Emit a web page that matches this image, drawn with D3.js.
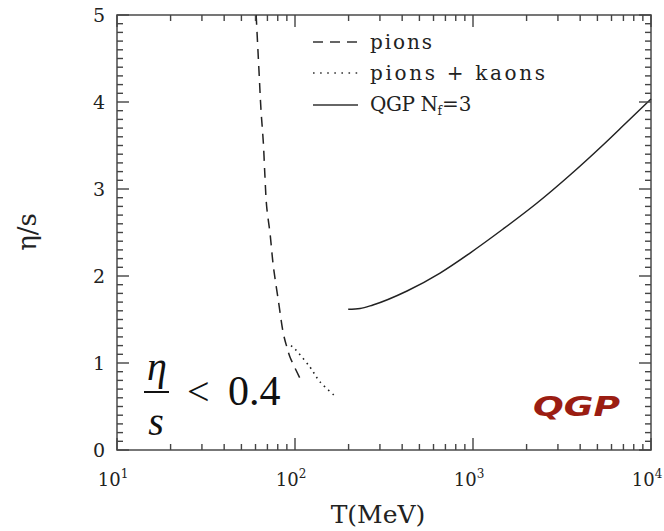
<!DOCTYPE html>
<html><head><meta charset="utf-8">
<script src="https://cdn.jsdelivr.net/npm/d3@7"></script>
<style>body{margin:0;background:#fff}svg{display:block}</style>
</head><body>
<svg id="c" width="664" height="531"></svg>
<script>
// ---- data ----
const pionsT   = [60.5, 63.0, 64.4, 66.4, 67.8, 69.3, 72.4, 75.6, 80.6, 86.0, 89.8, 93.7, 109];
const pionsEta = [5.0, 4.29, 3.91, 3.53, 3.14, 2.80, 2.49, 2.11, 1.72, 1.34, 1.19, 1.07, 0.785];
const kaonsT   = [95, 100, 121, 138, 170];
const kaonsEta = [1.20, 1.16, 0.957, 0.785, 0.61];
const qgpT     = [199, 232, 274, 426, 653, 962, 1476, 2290, 3510, 5375, 7330, 10000];
const qgpEta   = [1.617, 1.626, 1.667, 1.828, 2.034, 2.264, 2.540, 2.839, 3.161, 3.506, 3.770, 4.034];
const xMajor   = [10, 100, 1000, 10000];
const xExp     = ["1", "2", "3", "4"];
const yMajor   = [0, 1, 2, 3, 4, 5];
const legendLabels = ["pions", "pions + kaons", "QGP N"];

// ---- layout ----
const svg = d3.select("#c");
const L = 117, R = 651, T = 15, B = 450;
const x = d3.scaleLog().domain([10, 1e4]).range([L, R]);
const y = d3.scaleLinear().domain([0, 5]).range([B, T]);
const serif = "'DejaVu Serif', 'Liberation Serif', serif";
const axCol = "#555";

const xMinor = [20, 30, 40, 50, 60, 70, 80, 90, 200, 300, 400, 500, 600, 700, 800, 900,
                2000, 3000, 4000, 5000, 6000, 7000, 8000, 9000];
const yMinor = d3.range(1, 50).filter(i => i % 10 !== 0).map(i => i / 10);

// frame
svg.append("rect").attr("x", L).attr("y", T).attr("width", R - L).attr("height", B - T)
  .attr("fill", "none").attr("stroke", axCol).attr("stroke-width", 1.6);

// x tick labels
xMajor.forEach((v, i) => {
  const t = svg.append("text").attr("x", x(v) - 4).attr("y", 486)
    .attr("text-anchor", "middle").attr("font-family", serif).attr("font-size", 18).attr("fill", "#222");
  t.append("tspan").text("10");
  t.append("tspan").attr("dy", -8).attr("font-size", 12).text(xExp[i]);
});
// y tick labels
yMajor.forEach(v => {
  svg.append("text").attr("x", 99).attr("y", y(v) + 7).attr("text-anchor", "middle")
    .attr("font-family", serif).attr("font-size", 19).attr("fill", "#222").text(v);
});

// axis titles
svg.append("text").attr("x", 378).attr("y", 523).attr("text-anchor", "middle")
  .attr("font-family", serif).attr("font-size", 25).attr("fill", "#222").text("T(MeV)");
svg.append("text").attr("transform", "translate(36,232) rotate(-90)").attr("text-anchor", "middle")
  .attr("font-family", serif).attr("font-size", 26).attr("fill", "#222").text("η/s");

// curves
const line = d3.line().x(d => x(d[0])).y(d => y(d[1])).curve(d3.curveMonotoneX);
const lineY = d3.line().x(d => x(d[0])).y(d => y(d[1])).curve(d3.curveCatmullRom);
svg.append("path").datum(pionsT.map((t, i) => [t, pionsEta[i]]))
  .attr("d", lineY).attr("fill", "none").attr("stroke", "#222").attr("stroke-width", 1.5)
  .attr("stroke-dasharray", "10,7");
svg.append("path").datum(kaonsT.map((t, i) => [t, kaonsEta[i]]))
  .attr("d", lineY).attr("fill", "none").attr("stroke", "#222").attr("stroke-width", 1.6)
  .attr("stroke-dasharray", "1.6,4.2");
svg.append("path").datum(qgpT.map((t, i) => [t, qgpEta[i]]))
  .attr("d", line).attr("fill", "none").attr("stroke", "#222").attr("stroke-width", 1.5);

// legend
const legY = [42, 73, 105];
const dashes = ["10,7", "1.6,5.5", null];
legY.forEach((ly, i) => {
  const l = svg.append("line").attr("x1", 313).attr("x2", 358).attr("y1", ly).attr("y2", ly)
    .attr("stroke", "#333").attr("stroke-width", 1.5);
  if (dashes[i]) l.attr("stroke-dasharray", dashes[i]);
});
const legText = [
  {s: legendLabels[0], len: 62},
  {s: legendLabels[1], len: 175},
];
legText.forEach((d, i) => {
  svg.append("text").attr("x", 370).attr("y", legY[i] + 7).attr("font-family", serif)
    .attr("font-size", 20).attr("fill", "#222").attr("textLength", d.len)
    .attr("lengthAdjust", "spacing").text(d.s);
});
const q = svg.append("text").attr("x", 370).attr("y", legY[2] + 6).attr("font-family", serif)
  .attr("font-size", 20).attr("fill", "#222");
q.append("tspan").attr("textLength", 68).attr("lengthAdjust", "spacing").text(legendLabels[2]);
q.append("tspan").attr("dy", 4).attr("font-size", 12).text("f");
q.append("tspan").attr("dy", -4).text("=3");

// annotation eta/s < 0.4
const tnr = "'Liberation Serif', serif";
svg.append("text").attr("x", 157).attr("y", 380).attr("text-anchor", "middle").attr("fill", "#111")
  .attr("font-family", tnr).attr("font-style", "italic").attr("font-size", 40).text("η");
svg.append("line").attr("x1", 144).attr("x2", 169).attr("y1", 392).attr("y2", 392)
  .attr("stroke", "#111").attr("stroke-width", 2);
svg.append("text").attr("x", 156).attr("y", 435).attr("text-anchor", "middle").attr("fill", "#111")
  .attr("font-family", tnr).attr("font-style", "italic").attr("font-size", 40).text("s");
svg.append("text").attr("x", 187).attr("y", 405).attr("fill", "#111")
  .attr("font-family", tnr).attr("font-size", 40).text("<");
svg.append("text").attr("x", 228).attr("y", 405).attr("fill", "#111")
  .attr("font-family", tnr).attr("font-size", 42).text("0.4");

// QGP label
svg.append("text").attr("x", 533).attr("y", 416).attr("font-family", "'DejaVu Sans', sans-serif")
  .attr("font-style", "italic").attr("font-weight", "bold").attr("font-size", 26)
  .attr("fill", "#9b1d12").attr("textLength", 87).attr("lengthAdjust", "spacingAndGlyphs").text("QGP");

// ticks (inward, all four sides) as thin filled rects
const tw = 1.4;
const tk = svg.append("g");
function tickRect(rx, ry, w, h) {
  tk.append("rect").attr("x", rx).attr("y", ry).attr("width", w).attr("height", h).attr("fill", "#444");
}
xMinor.forEach(v => { const p = x(v) - tw / 2; tickRect(p, B - 6, tw, 6); tickRect(p, T, tw, 6); });
xMajor.forEach(v => { const p = x(v) - tw / 2; tickRect(p, B - 12, tw, 12); tickRect(p, T, tw, 12); });
yMinor.forEach(v => { const p = y(v) - tw / 2; tickRect(L, p, 6, tw); tickRect(R - 6, p, 6, tw); });
yMajor.forEach(v => { const p = y(v) - tw / 2; tickRect(L, p, 12, tw); tickRect(R - 12, p, 12, tw); });
</script>
</body></html>
